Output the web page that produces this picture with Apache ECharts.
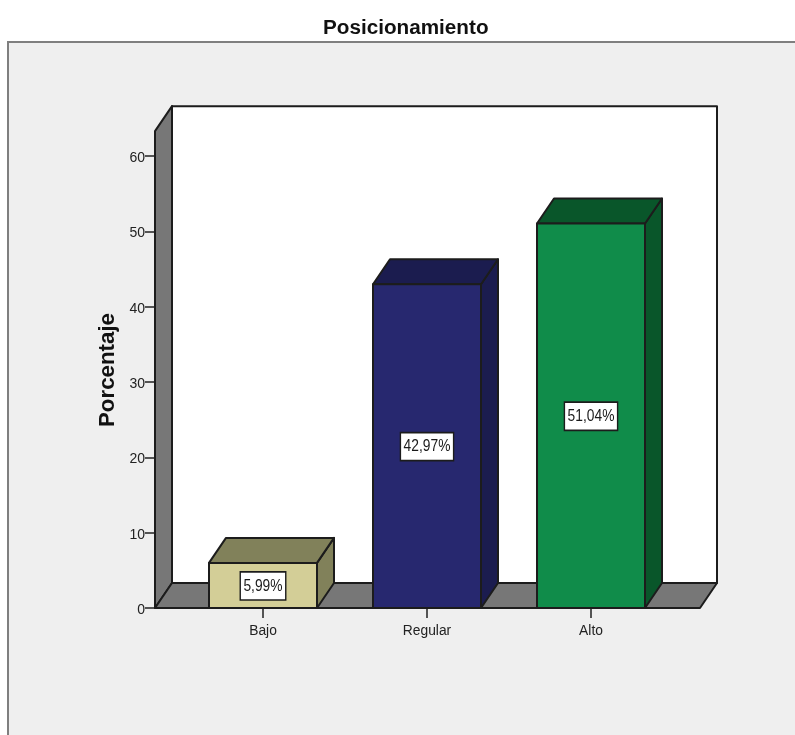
<!DOCTYPE html>
<html>
<head>
<meta charset="utf-8">
<style>html,body{margin:0;padding:0;background:#fff}#chart{width:795px;height:735px}</style>
<script src="https://cdn.jsdelivr.net/npm/echarts@6/dist/echarts.min.js"></script>
</head>
<body>
<div id="chart"></div>
<script>
// Percentages per level of "Posicionamiento"
const categories = ['Bajo', 'Regular', 'Alto'];
const percentages = [5.99, 42.97, 51.04];
const percentLabels = ['5,99%', '42,97%', '51,04%'];
const tickValues = [0, 10, 20, 30, 40, 50, 60];

// Face colours for each bar: front, then top and side
const frontColors = ['#d3ce97', '#27286f', '#108c4a'];
const shadeColors = ['#81815a', '#1b1c4f', '#09562a'];

// Oblique projection used for the pseudo-3D look
const DEPTH_X = 17;
const DEPTH_Y = 25;
const WALL_TOP_VALUE = 63.3;
const WALL_SIDE_MARGIN = 26;
const BAR_WIDTH = 108;
const EDGE = { stroke: '#1c1c1c', lineWidth: 2, lineJoin: 'round' };
const WALL_GREY = '#777777';
const SANS = '"Liberation Sans", Arial, sans-serif';

function poly(points, fill) {
  return { type: 'polygon', shape: { points }, style: Object.assign({ fill }, EDGE) };
}

// Back wall, left wall and floor of the box
function renderFrame(params, api) {
  const cs = params.coordSys;
  const base = api.coord([0, 0])[1];
  const top = api.coord([0, WALL_TOP_VALUE])[1];
  const l = cs.x - WALL_SIDE_MARGIN;
  const r = cs.x + cs.width + WALL_SIDE_MARGIN + 1;
  return {
    type: 'group',
    children: [
      poly([[l + DEPTH_X, top - DEPTH_Y], [r + DEPTH_X, top - DEPTH_Y], [r + DEPTH_X, base - DEPTH_Y], [l + DEPTH_X, base - DEPTH_Y]], '#ffffff'),
      poly([[l, base], [l, top], [l + DEPTH_X, top - DEPTH_Y], [l + DEPTH_X, base - DEPTH_Y]], WALL_GREY),
      poly([[l, base], [l + DEPTH_X, base - DEPTH_Y], [r + DEPTH_X, base - DEPTH_Y], [r, base]], WALL_GREY)
    ]
  };
}

// One extruded bar with its boxed percentage in the middle of the front face
function renderBar(params, api) {
  const i = api.value(0);
  const v = api.value(1);
  const [cx, y1] = api.coord([i, v]);
  const y0 = api.coord([i, 0])[1];
  const x0 = cx - BAR_WIDTH / 2;
  const x1 = cx + BAR_WIDTH / 2;
  return {
    type: 'group',
    children: [
      poly([[x1, y0], [x1, y1], [x1 + DEPTH_X, y1 - DEPTH_Y], [x1 + DEPTH_X, y0 - DEPTH_Y]], shadeColors[i]),
      poly([[x0, y1], [x0 + DEPTH_X, y1 - DEPTH_Y], [x1 + DEPTH_X, y1 - DEPTH_Y], [x1, y1]], shadeColors[i]),
      poly([[x0, y0], [x0, y1], [x1, y1], [x1, y0]], frontColors[i]),
      {
        type: 'text',
        x: cx,
        y: (y0 + y1) / 2 + 0.5,
        scaleY: 1.2,
        style: {
          text: percentLabels[i],
          font: '13.8px ' + SANS,
          fill: '#1a1a1a',
          align: 'center',
          verticalAlign: 'middle',
          backgroundColor: '#ffffff',
          borderColor: '#1c1c1c',
          borderWidth: 1.4,
          padding: [4.5, 2.5, 3.5, 2.5]
        }
      }
    ]
  };
}

const chart = echarts.init(document.getElementById('chart'), null, { renderer: 'canvas' });
chart.setOption({
  animation: false,
  backgroundColor: '#ffffff',
  title: {
    text: 'Posicionamiento',
    left: 318,
    top: 13,
    textStyle: { fontFamily: SANS, fontWeight: 'bold', fontSize: 20.7, color: '#111' }
  },
  graphic: {
    elements: [{
      type: 'rect',
      z: -10,
      shape: { x: 8, y: 42, width: 820, height: 720 },
      style: { fill: '#efefef', stroke: '#7f7f7f', lineWidth: 2 }
    }]
  },
  grid: { left: 181, width: 492, top: 156, height: 452 },
  xAxis: {
    type: 'category',
    data: categories,
    axisLine: { show: false },
    axisTick: { show: true, alignWithLabel: true, length: 10, lineStyle: { color: '#222', width: 1.5 } },
    axisLabel: { margin: 16, color: '#222', fontSize: 13.8, fontFamily: SANS }
  },
  yAxis: {
    type: 'value',
    min: 0,
    max: 60,
    interval: 10,
    offset: 26,
    splitLine: { show: false },
    axisLine: { show: false },
    axisTick: { show: true, length: 10, lineStyle: { color: '#222', width: 1.5 } },
    axisLabel: {
      margin: 10,
      customValues: tickValues,
      formatter: (v) => '{t|' + v + '}',
      rich: { t: { color: '#222', fontSize: 14, fontFamily: SANS, padding: [4, 0, 0, 0] } }
    },
    name: 'Porcentaje',
    nameLocation: 'middle',
    nameRotate: 90,
    nameGap: 33,
    nameTextStyle: { fontFamily: SANS, fontWeight: 'bold', fontSize: 22.3, color: '#111', padding: [0, 0, 0, 24] }
  },
  series: [
    { type: 'custom', z: 1, silent: true, clip: false, renderItem: renderFrame, data: [[0, WALL_TOP_VALUE]] },
    { type: 'custom', z: 2, silent: true, clip: false, renderItem: renderBar, data: percentages.map((v, i) => [i, v]) }
  ]
});
</script>
</body>
</html>
